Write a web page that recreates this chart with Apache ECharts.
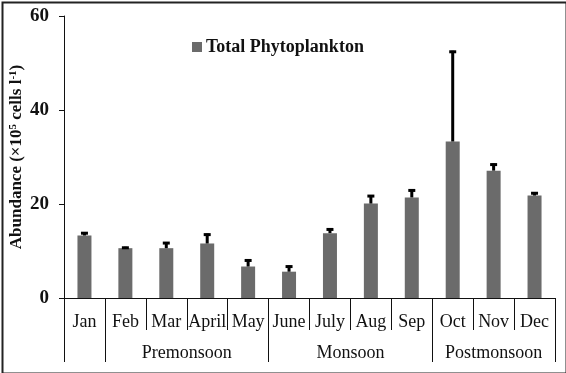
<!DOCTYPE html>
<html><head><meta charset="utf-8">
<script src="https://cdn.jsdelivr.net/npm/echarts@6/dist/echarts.min.js"></script>
<style>html,body{margin:0;padding:0;background:#fff}#c{width:566px;height:373px}</style>
</head><body><div id="c"></div>
<script>
var months = ['Jan','Feb','Mar','April','May','June','July','Aug','Sep','Oct','Nov','Dec'];
var abundance = [13.3, 10.6, 10.6, 11.6, 6.7, 5.6, 13.8, 20.1, 21.4, 33.3, 27.1, 21.8];
var errors = [0.7, 0.3, 1.3, 2.1, 1.5, 1.3, 1.0, 1.8, 1.7, 19.3, 1.5, 0.7];
var seasonNames = ['Premonsoon','Monsoon','Postmonsoon'];
var seasonCenters = [2.5, 6.5, 10];
var seasonBounds = [-0.5, 0.5, 4.5, 8.5, 11.5];

var serif = '"Liberation Serif","DejaVu Serif",serif';
var chart = echarts.init(document.getElementById('c'));
chart.setOption({
  animation: false,
  textStyle: {fontFamily: serif},
  grid: {left: 64, right: 11, top: 16, bottom: 75, containLabel: false, outerBoundsMode: 'none'},
  legend: {
    data: ['Total Phytoplankton'], left: 187, top: 33, icon: 'rect',
    itemWidth: 10, itemHeight: 10, itemGap: 6,
    textStyle: {fontFamily: serif, fontWeight: 'bold', fontSize: 18, color: '#111', padding: [0, 0, 0, -1]}
  },
  xAxis: [{
    type: 'category', data: months, boundaryGap: true,
    axisLine: {lineStyle: {color: '#111', width: 1}},
    axisTick: {show: true, length: 32, lineStyle: {color: '#111'}},
    axisLabel: {fontFamily: serif, fontSize: 18, color: '#111', margin: 15, interval: 0}
  }, {
    type: 'value', min: -0.5, max: 11.5, position: 'bottom',
    axisLine: {show: false}, splitLine: {show: false},
    axisTick: {show: true, length: 64, customValues: seasonBounds, lineStyle: {color: '#111'}},
    axisLabel: {
      fontFamily: serif, fontSize: 18, color: '#111', margin: 46,
      customValues: seasonCenters,
      formatter: function (v) { var i = seasonCenters.indexOf(v); return i >= 0 ? seasonNames[i] : ''; }
    }
  }],
  yAxis: {
    type: 'value', min: 0, max: 60, interval: 20,
    splitLine: {show: false},
    axisLine: {show: true, onZero: false, lineStyle: {color: '#111'}},
    axisTick: {show: true, length: 5, lineStyle: {color: '#111'}},
    axisLabel: {fontFamily: serif, fontWeight: 'bold', fontSize: 19, color: '#111', margin: 15},
    name: '{b|Abundance (×10}{s|5}{b| cells l}{s|-1}{b|)}',
    nameLocation: 'middle', nameGap: 39, nameRotate: 90, nameMoveOverlap: false,
    nameTextStyle: {
      rich: {
        b: {fontFamily: serif, fontWeight: 'bold', fontSize: 17, color: '#111'},
        s: {fontFamily: serif, fontWeight: 'bold', fontSize: 11, color: '#111', verticalAlign: 'top', lineHeight: 11, padding: [0, 0, 7, 0]}
      }
    }
  },
  series: [{
    name: 'Total Phytoplankton', type: 'bar', xAxisIndex: 0, data: abundance,
    barWidth: 14, itemStyle: {color: '#6b6b6b'}
  }, {
    type: 'custom', xAxisIndex: 0, z: 5,
    data: abundance.map(function (v, i) { return [i, v, v + errors[i]]; }),
    renderItem: function (params, api) {
      var x = api.value(0);
      var p0 = api.coord([x, api.value(1)]);
      var p1 = api.coord([x, api.value(2)]);
      return {
        type: 'group', children: [
          {type: 'line', shape: {x1: p0[0], y1: p0[1], x2: p1[0], y2: p1[1]}, style: {stroke: '#000', lineWidth: 3}},
          {type: 'line', shape: {x1: p1[0] - 3.5, y1: p1[1] + 1, x2: p1[0] + 3.5, y2: p1[1] + 1}, style: {stroke: '#000', lineWidth: 3}}
        ]
      };
    }
  }],
  graphic: [{
    type: 'rect', left: 0, top: 0, silent: true,
    shape: {x: 1, y: 1, width: 564, height: 371},
    style: {fill: 'none', stroke: '#222', lineWidth: 2}
  }]
});
</script></body></html>
